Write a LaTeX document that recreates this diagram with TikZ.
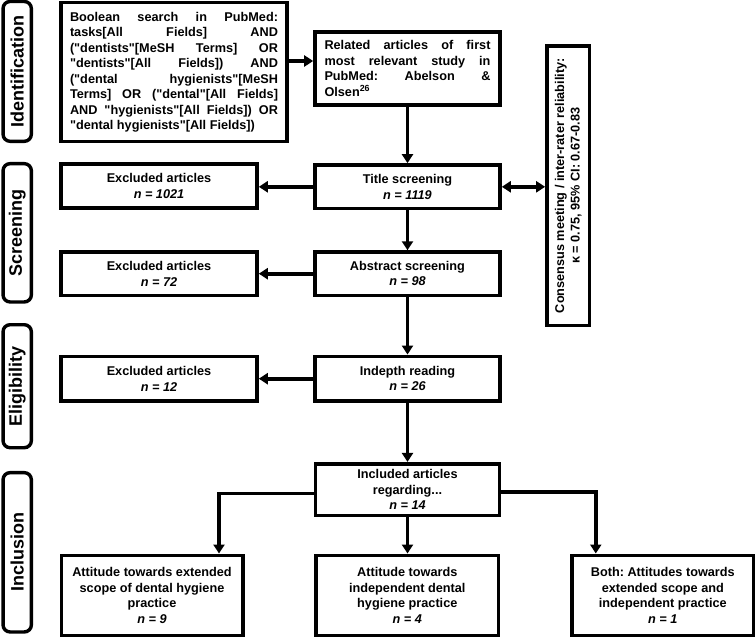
\documentclass[tikz,border=0pt]{standalone}
\usepackage{fontspec}
\setmainfont{Liberation Sans}[Ligatures=TeXOff]
\frenchspacing
\usetikzlibrary{positioning}
\usetikzlibrary{arrows.meta}
\tikzset{>={Triangle[length=9pt,width=11pt]}}
\tikzset{
  box/.style={draw, line width=3.6pt, align=center, inner sep=0pt,
    font=\bfseries\fontsize{12.7}{15.5}\selectfont},
  stage/.style={draw, line width=3.4pt, rounded corners=7pt, rotate=90,
    inner sep=0pt, minimum height=28.3pt, font=\bfseries\fontsize{18}{22}\selectfont},
  flow/.style={->, line width=3.6pt},
}
\newcommand{\nval}[1]{\textit{n = #1}}

\begin{document}
\begin{tikzpicture}[x=1pt, y=-1pt]
    \useasboundingbox (0,0) rectangle (756,638);
    % phases
    \node[stage, minimum width=139.8pt] (ident) at (17.2, 71.4) {Identification};
    \node[stage, minimum width=138.3pt] (screen) at (17.2, 232.8) {Screening};
    \node[stage, minimum width=123pt] (elig) at (17.2, 386.2) {Eligibility};
    \node[stage, minimum width=159.3pt] (incl) at (17.2, 552.3) {Inclusion};
    % boxes
    \node[box, align=justify, text width=208pt, minimum width=226pt, minimum height=139pt] (search) at (174, 72) {Boolean search in PubMed:\linebreak tasks[All Fields] AND\linebreak ("dentists"[MeSH Terms] OR\linebreak "dentists"[All Fields]) AND\linebreak ("dental hygienists"[MeSH\linebreak Terms] OR ("dental"[All Fields]\linebreak AND "hygienists"[All Fields]) OR\linebreak "dental hygienists"[All Fields])};
    \node[box, align=justify, text width=166pt, minimum width=185pt, minimum height=73pt] (related) at (407.5, 68.5) {Related articles of first\linebreak most relevant study in\linebreak PubMed: Abelson \&\linebreak Olsen\textsuperscript{26}};
    \node[box, minimum width=185pt, minimum height=43.7pt] (title) at (407.5, 186.8) {Title screening\\ \nval{1119}};
    \node[box, minimum width=185pt, minimum height=43.3pt] (abstract) at (407.5, 273.7) {Abstract screening\\ \nval{98}};
    \node[box, minimum width=185pt, minimum height=44.7pt] (indepth) at (407.5, 378.7) {Indepth reading\\ \nval{26}};
    \node[box, minimum width=184pt, minimum height=51.6pt] (included) at (407.5, 489.5) {Included articles\\ regarding...\\ \nval{14}};
    \node[box, minimum width=196pt, minimum height=44.5pt] (excl1) at (159, 186) {Excluded articles\\ \nval{1021}};
    \node[box, minimum width=196pt, minimum height=43.3pt] (excl2) at (159, 273.7) {Excluded articles\\ \nval{72}};
    \node[box, minimum width=196pt, minimum height=44.7pt] (excl3) at (159, 378.7) {Excluded articles\\ \nval{12}};
    \node[box, rotate=90, minimum width=279.3pt, minimum height=42.7pt] (consensus) at (568.3, 185.7) {Consensus meeting / inter-rater reliability:\\ κ = 0.75, 95\% CI: 0.67-0.83};
    \node[box, minimum width=181.4pt, minimum height=80pt] (extended) at (152, 595.3) {Attitude towards extended\\ scope of dental hygiene\\ practice\\ \nval{9}};
    \node[box, minimum width=182.7pt, minimum height=80pt] (independent) at (407.3, 595.3) {Attitude towards\\ independent dental\\ hygiene practice\\ \nval{4}};
    \node[box, minimum width=181.7pt, minimum height=80pt] (both) at (662.8, 595.3) {Both: Attitudes towards\\ extended scope and\\ independent practice\\ \nval{1}};
    % connectors
    \coordinate (q) at ([yshift=11pt]search.east);
    \draw[flow] (q) -- (q -| related.west);
    \draw[flow] (related.south) -- (related.south |- title.north);
    \draw[<->, line width=3.6pt] (title.east) -- (title.east -| consensus.north);
    \draw[flow] (title.west) -- (title.west -| excl1.east);
    \draw[flow] (title.south) -- (title.south |- abstract.north);
    \draw[flow] (abstract.west) -- (abstract.west -| excl2.east);
    \draw[flow] (abstract.south) -- (abstract.south |- indepth.north);
    \draw[flow] (indepth.west) -- (indepth.west -| excl3.east);
    \draw[flow] (indepth.south) -- (indepth.south |- included.north);
    \draw[flow] ([yshift=-4pt]included.west) -| ([xshift=67pt]extended.north);
    \draw[flow] (included.south) -- (included.south |- independent.north);
    \draw[flow] ([yshift=-2.5pt]included.east) -| ([xshift=-67pt]both.north);
\end{tikzpicture}
\end{document}
